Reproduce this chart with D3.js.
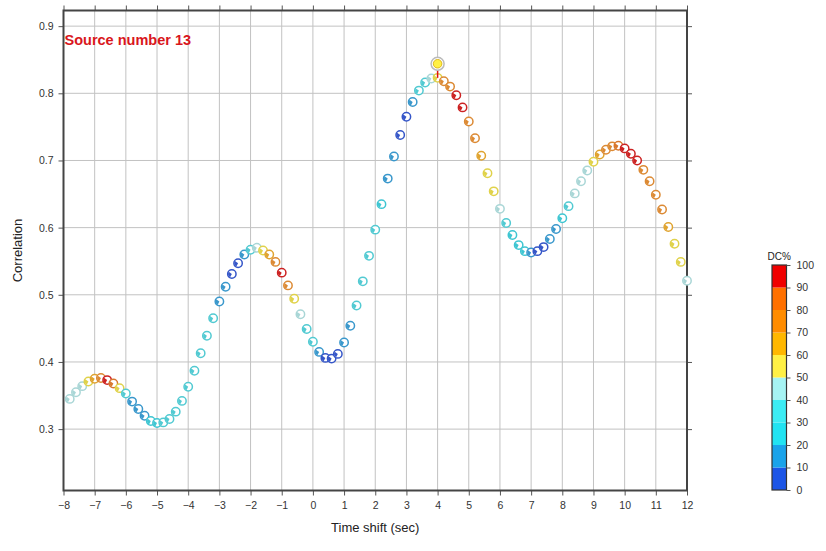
<!DOCTYPE html>
<html><head><meta charset="utf-8">
<script src="https://cdn.jsdelivr.net/npm/d3@7"></script>
<style>body{margin:0;background:#fff;}svg{display:block;font-family:"Liberation Sans",Arial,Helvetica,sans-serif;}</style>
</head><body><svg id="c" width="826" height="551"></svg>
<script>
const shifts = [-7.8,-7.6,-7.4,-7.2,-7.0,-6.8,-6.6,-6.4,-6.2,-6.0,-5.8,-5.6,-5.4,-5.2,-5.0,-4.8,-4.6,-4.4,-4.2,-4.0,
 -3.8,-3.6,-3.4,-3.2,-3.0,-2.8,-2.6,-2.4,-2.2,-2.0,-1.8,-1.6,-1.4,-1.2,-1.0,-0.8,-0.6,-0.4,-0.2,0.0,
 0.2,0.4,0.6,0.8,1.0,1.2,1.4,1.6,1.8,2.0,2.2,2.4,2.6,2.8,3.0,3.2,3.4,3.6,3.8,4.0,
 4.2,4.4,4.6,4.8,5.0,5.2,5.4,5.6,5.8,6.0,6.2,6.4,6.6,6.8,7.0,7.2,7.4,7.6,7.8,8.0,
 8.2,8.4,8.6,8.8,9.0,9.2,9.4,9.6,9.8,10.0,10.2,10.4,10.6,10.8,11.0,11.2,11.4,11.6,11.8,12.0];
const correlation = [0.345,0.355,0.364,0.371,0.375,0.376,0.373,0.368,0.361,0.353,0.341,0.330,0.320,0.312,0.309,0.310,0.315,0.326,0.342,0.363,
 0.387,0.413,0.439,0.465,0.490,0.512,0.531,0.547,0.560,0.567,0.570,0.566,0.560,0.549,0.533,0.514,0.494,0.471,0.449,0.430,
 0.415,0.406,0.405,0.412,0.429,0.454,0.484,0.520,0.558,0.597,0.635,0.673,0.706,0.738,0.765,0.787,0.804,0.816,0.822,0.823,
 0.818,0.810,0.797,0.779,0.758,0.733,0.707,0.681,0.654,0.628,0.607,0.589,0.574,0.565,0.563,0.565,0.571,0.583,0.598,0.614,
 0.632,0.651,0.669,0.685,0.698,0.709,0.716,0.721,0.722,0.718,0.710,0.700,0.686,0.669,0.649,0.627,0.601,0.576,0.549,0.521];
const dcPercent = [45,45,45,55,65,75,92,80,55,35,15,15,15,25,25,30,30,30,30,30,
 30,30,30,30,15,15,5,5,15,35,45,55,65,75,95,75,55,45,35,30,
 15,5,5,5,12,15,30,30,30,30,25,15,15,5,5,15,30,35,45,55,
 75,75,95,95,75,75,65,55,55,45,35,25,25,25,15,5,5,15,15,25,
 35,45,45,45,55,65,75,75,80,92,92,92,75,75,75,75,65,55,55,45];
const bestShift = [4.0];
const bestCorrelation = [0.844];
const bestDC = [55];
const xTicks = [-8,-7,-6,-5,-4,-3,-2,-1,0,1,2,3,4,5,6,7,8,9,10,11,12];
const yTicks = [0.3,0.4,0.5,0.6,0.7,0.8,0.9];
const dcBins = [0,10,20,30,40,50,60,70,80,90,100];
const dcColors = ["#1c55e6","#1aa3ea","#22e3f2","#3cecf4","#a6f3f3","#fff045","#ffb700","#ff8c00","#ff7000","#f00000"];
const markerColors = ["#3556c8","#3a98cc","#3fc6d2","#52cad2","#a9d6d6","#e0d24a","#e0a430","#dc8a34","#d8782e","#cc2222"];
const dcTicks = [0,10,20,30,40,50,60,70,80,90,100];

const svg = d3.select("#c");
const L=63.5, R=687, T=10.5, B=490.5;
const x = d3.scaleLinear().domain([-8,12]).range([L,R]);
const y = d3.scaleLinear().domain([0.2086,0.9233]).range([B,T]);
const col = d3.scaleThreshold().domain(dcBins.slice(1,-1)).range(markerColors);
const colBar = d3.scaleThreshold().domain(dcBins.slice(1,-1)).range(dcColors);

// grid
const g = svg.append("g");
g.selectAll(".gx").data(xTicks).join("line").attr("x1",d=>x(d)).attr("x2",d=>x(d)).attr("y1",T).attr("y2",B)
 .attr("stroke","#c2c2c2").attr("stroke-width",1);
g.selectAll(".gy").data(yTicks).join("line").attr("y1",d=>y(d)).attr("y2",d=>y(d)).attr("x1",L).attr("x2",R)
 .attr("stroke","#c2c2c2").attr("stroke-width",1);

// axes
const fmtX = d=> d<0 ? "\u2212"+Math.abs(d) : String(d);
const ax = svg.append("g").attr("transform",`translate(0,${B})`).call(d3.axisBottom(x).tickValues(xTicks).tickSize(5).tickPadding(6).tickFormat(fmtX));
const axT = svg.append("g").attr("transform",`translate(0,${T})`).call(d3.axisTop(x).tickValues(xTicks).tickSize(5).tickFormat(""));
const ay = svg.append("g").attr("transform",`translate(${L},0)`).call(d3.axisLeft(y).tickValues(yTicks).tickSize(5).tickPadding(5).tickFormat(d3.format(".1f")));
const ayR = svg.append("g").attr("transform",`translate(${R},0)`).call(d3.axisRight(y).tickValues(yTicks).tickSize(5).tickFormat(""));
[ax,axT,ay,ayR].forEach(a=>{
  a.select(".domain").remove();
  a.selectAll(".tick line").attr("stroke","#555").attr("stroke-width",1);
  a.selectAll("text").attr("fill","#333").style("font-size","10.5px");
});
svg.append("rect").attr("x",L).attr("y",T).attr("width",R-L).attr("height",B-T)
 .attr("fill","none").attr("stroke","#444").attr("stroke-width",2);

svg.append("text").attr("x",(L+R)/2).attr("y",532).attr("text-anchor","middle").attr("fill","#222")
 .style("font-size","13px").text("Time shift (sec)");
svg.append("text").attr("transform",`translate(22,${(T+B)/2}) rotate(-90)`).attr("text-anchor","middle").attr("fill","#222")
 .style("font-size","13px").text("Correlation");
svg.append("text").attr("x",L+1).attr("y",45).attr("fill","#d9161c").style("font-size","14.5px").style("font-weight","bold")
 .text("Source number 13");

// beachball-like markers
const data = shifts.map((s,i)=>({s, c:correlation[i], dc:dcPercent[i]}));
const r = 4.2;
const lune = d3.arc().innerRadius(0).outerRadius(r-0.4);
const pts = svg.append("g").selectAll("g").data(data).join("g")
 .attr("transform",d=>`translate(${x(d.s)},${y(d.c)})`);
pts.append("circle").attr("r",r).attr("fill","#fff").attr("stroke",d=>col(d.dc)).attr("stroke-width",1.5);
pts.append("path").attr("d",lune({startAngle:Math.PI*1.15,endAngle:Math.PI*1.7})).attr("fill",d=>col(d.dc));

// best solution
const best = bestShift.map((s,i)=>({s,c:bestCorrelation[i],dc:bestDC[i]}));
svg.append("g").selectAll("line").data(best).join("line")
 .attr("x1",d=>x(d.s)).attr("x2",d=>x(d.s)).attr("y1",d=>y(d.c)).attr("y2",y(correlation[shifts.indexOf(4.0)]))
 .attr("stroke","#e01010").attr("stroke-width",1.5);
const bg = svg.append("g").selectAll("g").data(best).join("g").attr("transform",d=>`translate(${x(d.s)},${y(d.c)})`);
bg.append("circle").attr("r",6.5).attr("fill","#fff").attr("stroke","#bbb").attr("stroke-width",1.5);
bg.append("circle").attr("r",4.3).attr("fill",d=>colBar(d.dc)).attr("stroke","#d6a800").attr("stroke-width",0.8);

// colorbar
const cbX=772, cbW=14.5, cbT=265, cbB=490;
const cy = d3.scaleLinear().domain([0,100]).range([cbB,cbT]);
const cb = svg.append("g");
cb.selectAll("rect").data(dcColors).join("rect")
 .attr("x",cbX).attr("width",cbW)
 .attr("y",(d,i)=>cy(dcBins[i+1])).attr("height",(d,i)=>cy(dcBins[i])-cy(dcBins[i+1]))
 .attr("fill",d=>d);
cb.append("rect").attr("x",cbX).attr("y",cbT).attr("width",cbW).attr("height",cbB-cbT)
 .attr("fill","none").attr("stroke","#333").attr("stroke-width",1.2);
const cax = cb.append("g").attr("transform",`translate(${cbX+cbW},0)`)
 .call(d3.axisRight(cy).tickValues(dcTicks).tickSize(4).tickPadding(6));
cax.select(".domain").remove();
cax.selectAll(".tick line").attr("stroke","#555");
cax.selectAll("text").attr("fill","#333").style("font-size","10.5px");
cb.append("text").attr("x",cbX+cbW/2).attr("y",cbT-5).attr("text-anchor","middle").attr("fill","#222")
 .style("font-size","10px").text("DC%");
</script></body></html>
